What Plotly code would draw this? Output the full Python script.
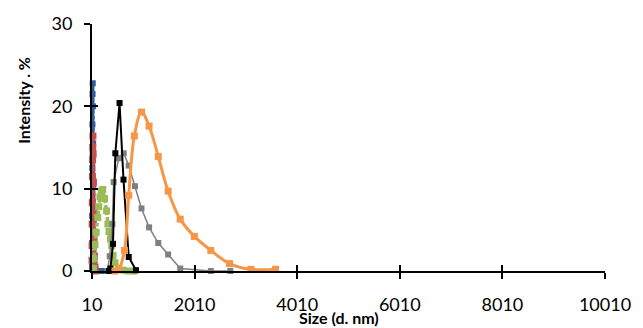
import plotly.graph_objects as go

# ---- data (size in d.nm, intensity %) ----
blue_size = [10.1, 11.7, 13.5, 15.7, 18.2, 21.0, 24.4, 28.2, 32.7, 37.8, 43.8, 50.7, 58.8, 68.1, 78.8, 91.3, 122.4, 164.2, 220.2, 255.0]
blue_int = [0.5, 3.4, 6.7, 12.5, 17.8, 21.5, 22.8, 20.0, 15.5, 10.5, 6.2, 3.1, 1.3, 0.4, 0.1, 0.0, 0.0, 0.0, 0.0, 0.0]

red_size = [10.1, 11.7, 13.5, 15.7, 18.2, 21.0, 24.4, 28.2, 32.7, 37.8, 43.8, 50.7, 58.8, 68.1, 78.8]
red_int = [1.3, 3.1, 5.7, 8.3, 11.5, 13.5, 15.0, 16.4, 14.2, 10.8, 7.0, 4.0, 1.8, 0.5, 0.0]

green_size = [37.8, 50.7, 68.1, 91.3, 122.4, 141.8, 164.2, 190.1, 220.2, 255.0, 295.3, 320.0, 342.0, 370.0, 396.1, 420.0, 458.7, 531.2, 615.1, 712.4, 825.0]
green_int = [0.3, 1.5, 3.2, 4.7, 6.5, 7.8, 9.0, 9.7, 9.9, 8.8, 7.3, 5.7, 4.8, 3.9, 3.1, 1.9, 1.0, 0.3, 0.1, 0.0, 0.0]

gray_size = [310, 355, 407, 432, 533, 629, 726, 848, 975, 1123, 1302, 1494, 1730, 2326, 2706]
gray_int = [0.0, 1.8, 5.7, 10.8, 13.7, 14.3, 12.8, 10.3, 7.6, 5.3, 3.4, 2.0, 0.3, 0.0, 0.0]

black_size = [342, 369, 419, 465, 547, 624, 726, 868]
black_int = [0.0, 0.3, 3.3, 14.3, 20.4, 11.1, 1.7, 0.1]

orange_size = [458, 531, 643, 726, 835, 975, 1123, 1302, 1494, 1730, 2006, 2326, 2690, 3107, 3587]
orange_int = [0.0, 0.2, 2.5, 9.2, 16.4, 19.3, 17.6, 13.9, 9.7, 6.3, 4.2, 2.5, 0.9, 0.2, 0.2]

x_ticks = [10, 2010, 4010, 6010, 8010, 10010]
y_ticks = [0, 10, 20, 30]

FONT = "Lato"

fig = go.Figure()

def add(xs, ys, color, width, msize, dash="solid", shape="linear"):
    fig.add_trace(go.Scatter(
        x=xs, y=ys, mode="lines+markers",
        line=dict(color=color, width=width, dash=dash, shape=shape),
        marker=dict(symbol="square", size=msize, color=color),
        cliponaxis=False, showlegend=False, hoverinfo="skip"))

add(blue_size, blue_int, "#2F5C97", 3.5, 6, dash="4px,2px")
add(red_size, red_int, "#C0504D", 4, 7, dash="4px,2px")
add(green_size, green_int, "#9BBB59", 3.5, 7, dash="4px,2px")
add(gray_size, gray_int, "#7F7F7F", 1.5, 6)
add(black_size, black_int, "#000000", 2, 6)
add(orange_size, orange_int, "#F79646", 3, 7, shape="spline")

# invisible helper trace so the overlay axes (inner half of crossing ticks) are drawn
fig.add_trace(go.Scatter(x=[x_ticks[0]], y=[y_ticks[0]], xaxis="x2", yaxis="y2",
                         mode="markers", marker=dict(opacity=0), showlegend=False,
                         hoverinfo="skip"))

xr = [x_ticks[0], x_ticks[-1]]
yr = [y_ticks[0], y_ticks[-1]]

fig.update_layout(
    width=643, height=328,
    margin=dict(l=92, r=31, t=19, b=57),
    paper_bgcolor="white", plot_bgcolor="white",
    font=dict(family=FONT, size=18, color="#000000"),
    xaxis=dict(range=xr, tickvals=x_ticks, ticktext=[str(v) for v in x_ticks],
               showgrid=False, zeroline=False, showline=True, linecolor="black",
               linewidth=2, ticks="outside", ticklen=6, tickwidth=1.5,
               tickcolor="black", ticklabelstandoff=10),
    yaxis=dict(range=yr, tickvals=y_ticks, showgrid=False, zeroline=False,
               showline=True, linecolor="black", linewidth=2, ticks="outside",
               ticklen=6, tickwidth=1.5, tickcolor="black", ticklabelstandoff=8),
    xaxis2=dict(range=xr, tickvals=x_ticks, overlaying="x", anchor="y2",
                showgrid=False, zeroline=False, showline=False, ticks="inside",
                ticklen=6, tickwidth=1.5, tickcolor="black", showticklabels=False),
    yaxis2=dict(range=yr, tickvals=y_ticks, overlaying="y", anchor="x2",
                showgrid=False, zeroline=False, showline=False, ticks="inside",
                ticklen=6, tickwidth=1.5, tickcolor="black", showticklabels=False),
    annotations=[
        dict(text="<b>Size (d. nm)</b>", xref="paper", yref="paper",
             x=0.482, y=-0.19, xanchor="center", yanchor="middle",
             showarrow=False, font=dict(family=FONT, size=16)),
        dict(text="<b>Intensity . %</b>", xref="paper", yref="paper",
             x=-0.134, y=0.69, xanchor="center", yanchor="middle", textangle=-90,
             showarrow=False, font=dict(family=FONT, size=16)),
    ],
)

fig.write_html("out.html")
